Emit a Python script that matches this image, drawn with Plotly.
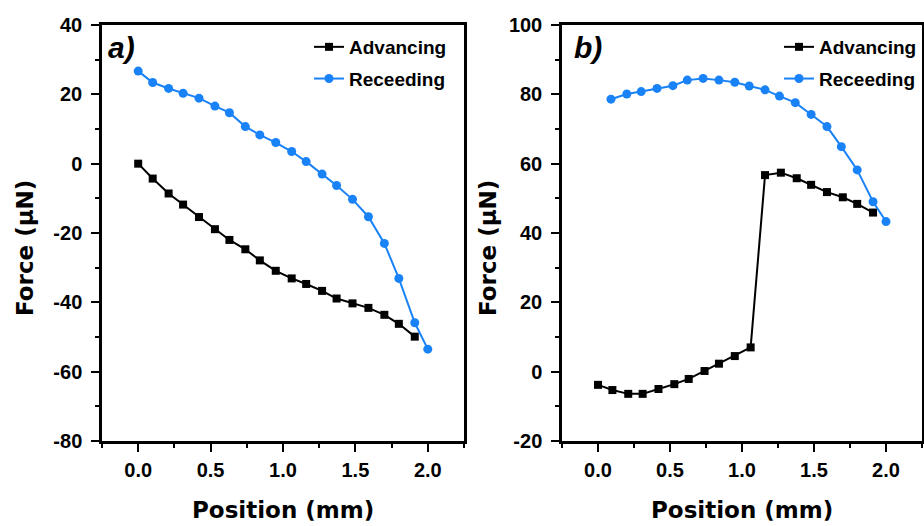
import plotly.graph_objects as go

# ---- data ----
pos_adv_a = [0.0, 0.10, 0.21, 0.31, 0.42, 0.53, 0.63, 0.74, 0.84, 0.95,
             1.06, 1.16, 1.27, 1.37, 1.48, 1.59, 1.70, 1.80, 1.91]
force_adv_a = [0.0, -4.3, -8.6, -11.8, -15.4, -18.9, -22.0, -24.7, -27.9, -30.9,
               -33.1, -34.7, -36.7, -38.9, -40.3, -41.6, -43.6, -46.2, -49.9]
pos_rec_a = [0.0, 0.10, 0.21, 0.31, 0.42, 0.53, 0.63, 0.74, 0.84, 0.95,
             1.06, 1.16, 1.27, 1.37, 1.48, 1.59, 1.70, 1.80, 1.91, 2.00]
force_rec_a = [26.7, 23.4, 21.7, 20.3, 18.9, 16.6, 14.7, 10.7, 8.3, 6.1,
               3.5, 0.6, -3.0, -6.3, -10.3, -15.3, -23.0, -33.1, -45.9, -53.5]

pos_adv_b = [0.0, 0.10, 0.21, 0.31, 0.42, 0.53, 0.63, 0.74, 0.84, 0.95,
             1.06, 1.16, 1.27, 1.38, 1.48, 1.59, 1.70, 1.80, 1.91]
force_adv_b = [-3.8, -5.3, -6.4, -6.4, -5.0, -3.6, -2.1, 0.2, 2.3, 4.5,
               7.0, 56.7, 57.4, 55.8, 53.9, 51.8, 50.3, 48.4, 45.9]
pos_rec_b = [0.09, 0.20, 0.30, 0.41, 0.52, 0.62, 0.73, 0.84, 0.95, 1.05,
             1.16, 1.26, 1.37, 1.48, 1.59, 1.69, 1.80, 1.91, 2.00]
force_rec_b = [78.6, 80.1, 80.8, 81.7, 82.5, 84.1, 84.6, 84.1, 83.5, 82.4,
               81.3, 79.5, 77.6, 74.2, 70.7, 64.9, 58.2, 49.0, 43.3]

series_names = ["Advancing", "Receeding"]
x_ticks = [0.0, 0.5, 1.0, 1.5, 2.0]
x_tick_text = ["0.0", "0.5", "1.0", "1.5", "2.0"]
y_ticks_a = [-80, -60, -40, -20, 0, 20, 40]
y_tick_text_a = ["-80", "-60", "-40", "-20", "0", "20", "40"]
y_ticks_b = [-20, 0, 20, 40, 60, 80, 100]
y_tick_text_b = ["-20", "0", "20", "40", "60", "80", "100"]

BLACK = "#000000"
BLUE = "#1a82f7"
FONT = "Liberation Sans"
TITLE_FONT = "DejaVu Sans"

W, H = 924, 526

fig = go.Figure()


def add_pair(xa, ya, xr, yr, xaxis, yaxis, legend):
    fig.add_trace(go.Scatter(
        x=xa, y=ya, mode="lines+markers", name=series_names[0],
        line=dict(color=BLACK, width=2),
        marker=dict(symbol="square", size=8, color=BLACK),
        xaxis=xaxis, yaxis=yaxis, legend=legend, legendgroup=legend + "a"))
    fig.add_trace(go.Scatter(
        x=xr, y=yr, mode="lines+markers", name=series_names[1],
        line=dict(color=BLUE, width=2),
        marker=dict(symbol="circle", size=9, color=BLUE),
        xaxis=xaxis, yaxis=yaxis, legend=legend, legendgroup=legend + "r"))


add_pair(pos_adv_a, force_adv_a, pos_rec_a, force_rec_a, "x", "y", "legend")
add_pair(pos_adv_b, force_adv_b, pos_rec_b, force_rec_b, "x2", "y2", "legend2")

xd1 = [102 / W, 464 / W]
xd2 = [562 / W, 922 / W]
yd = [1 - 441 / H, 1 - 25 / H]

common_x = dict(
    range=[-0.25, 2.25], tickvals=x_ticks, ticktext=x_tick_text,
    showline=True, linecolor=BLACK, linewidth=2.5, mirror=True,
    ticks="outside", ticklen=8, tickwidth=2, tickcolor=BLACK,
    minor=dict(dtick=0.25, tick0=0, ticks="outside", ticklen=4, tickwidth=2, tickcolor=BLACK),
    showgrid=False, zeroline=False, automargin=False,
    tickfont=dict(family=FONT, size=20, color=BLACK, weight="bold"),
    ticklabelstandoff=1, fixedrange=True,
)
common_y = dict(
    showline=True, linecolor=BLACK, linewidth=2.5, mirror=True,
    ticks="outside", ticklen=8, tickwidth=2, tickcolor=BLACK,
    minor=dict(dtick=10, ticks="outside", ticklen=4, tickwidth=2, tickcolor=BLACK),
    showgrid=False, zeroline=False, automargin=False,
    tickfont=dict(family=FONT, size=20, color=BLACK, weight="bold"),
    ticklabelstandoff=5, fixedrange=True,
)

legend_font = dict(family=FONT, size=19, color=BLACK, weight="bold")

fig.update_layout(
    width=W, height=H,
    margin=dict(l=0, r=0, t=0, b=0, autoexpand=False),
    paper_bgcolor="white", plot_bgcolor="white",
    xaxis=dict(domain=xd1, anchor="y", **common_x),
    yaxis=dict(domain=yd, anchor="x", range=[-80, 40],
               tickvals=y_ticks_a, ticktext=y_tick_text_a, **common_y),
    xaxis2=dict(domain=xd2, anchor="y2", **common_x),
    yaxis2=dict(domain=yd, anchor="x2", range=[-20, 100],
                tickvals=y_ticks_b, ticktext=y_tick_text_b, **common_y),
    legend=dict(x=309 / W, y=1 - 28 / H, xanchor="left", yanchor="top",
                bgcolor="rgba(0,0,0,0)", tracegroupgap=4, font=legend_font),
    legend2=dict(x=779 / W, y=1 - 28 / H, xanchor="left", yanchor="top",
                 bgcolor="rgba(0,0,0,0)", tracegroupgap=4, font=legend_font),
    showlegend=True,
)

ann_font_title = dict(family=TITLE_FONT, size=23, color=BLACK, weight="bold")
panel_font = dict(family=FONT, size=30, color=BLACK, weight="bold", style="italic")
annotations = [
    dict(text="a)", x=106 / W, y=1 - 47 / H, xref="paper", yref="paper",
         xanchor="left", yanchor="middle", showarrow=False, font=panel_font),
    dict(text="b)", x=572 / W, y=1 - 47 / H, xref="paper", yref="paper",
         xanchor="left", yanchor="middle", showarrow=False, font=panel_font),
    dict(text="Position (mm)", x=283 / W, y=1 - 510 / H, xref="paper", yref="paper",
         xanchor="center", yanchor="middle", showarrow=False, font=ann_font_title),
    dict(text="Position (mm)", x=742 / W, y=1 - 510 / H, xref="paper", yref="paper",
         xanchor="center", yanchor="middle", showarrow=False, font=ann_font_title),
    dict(text="Force (μN)", x=25 / W, y=1 - 248 / H, xref="paper", yref="paper",
         xanchor="center", yanchor="middle", showarrow=False, textangle=-90,
         font=ann_font_title),
    dict(text="Force (μN)", x=488 / W, y=1 - 248 / H, xref="paper", yref="paper",
         xanchor="center", yanchor="middle", showarrow=False, textangle=-90,
         font=ann_font_title),
]
fig.update_layout(annotations=annotations)

fig.write_html(
    "out.html",
    config={"displayModeBar": False},
    post_script="document.body.style.margin='0';document.body.style.overflow='hidden';",
)
